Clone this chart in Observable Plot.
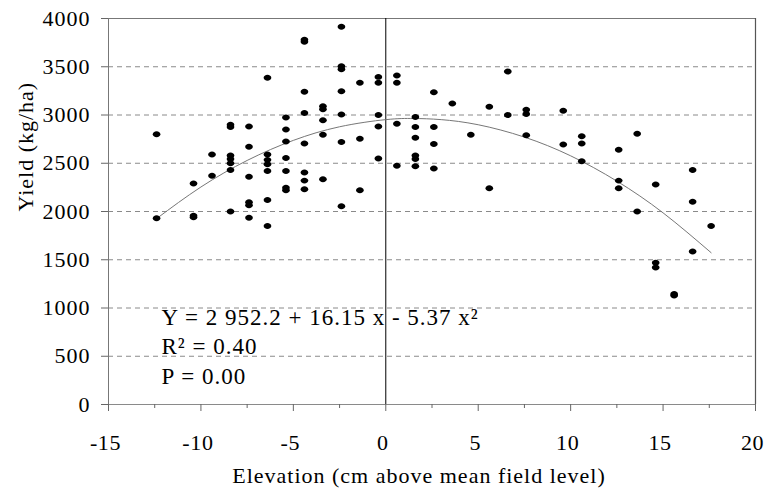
<!DOCTYPE html>
<html>
<head>
<meta charset="utf-8">
<script src="https://cdn.jsdelivr.net/npm/d3@7"></script>
<script src="https://cdn.jsdelivr.net/npm/@observablehq/plot@0.6"></script>
<style>
  html, body { margin: 0; padding: 0; background: #fff; }
  #chart svg text { letter-spacing: 1px; }
  #chart svg g[aria-label="x-axis tick label"] text { letter-spacing: 0.6px; }
</style>
</head>
<body>
<div id="chart"></div>
<script>
// Scatter data: elevation (cm above mean field level) and yield (kg/ha)
const elevation = [
  -12.4, -12.4,
  -10.4, -10.4, -10.4,
  -9.4, -9.4,
  -8.4, -8.4, -8.4, -8.4, -8.4, -8.4, -8.4,
  -7.4, -7.4, -7.4, -7.4, -7.4, -7.4,
  -6.4, -6.4, -6.4, -6.4, -6.4, -6.4, -6.4,
  -5.4, -5.4, -5.4, -5.4, -5.4, -5.4, -5.4,
  -4.4, -4.4, -4.4, -4.4, -4.4, -4.4, -4.4, -4.4,
  -3.4, -3.4, -3.4, -3.4, -3.4,
  -2.4, -2.4, -2.4, -2.4, -2.4, -2.4, -2.4,
  -1.4, -1.4, -1.4,
  -0.4, -0.4, -0.4, -0.4, -0.4,
  0.6, 0.6, 0.6, 0.6,
  1.6, 1.6, 1.6, 1.6, 1.6, 1.6,
  2.6, 2.6, 2.6, 2.6,
  3.6,
  4.6,
  5.6, 5.6,
  6.6, 6.6,
  7.6, 7.6, 7.6,
  9.6, 9.6,
  10.6, 10.6, 10.6,
  12.6, 12.6, 12.6,
  13.6, 13.6,
  14.6, 14.6, 14.6,
  15.6, 15.6,
  16.6, 16.6, 16.6,
  17.6
];
const yieldKgHa = [
  2800, 1930,
  2290, 1955, 1940,
  2590, 2370,
  2900, 2875, 2580, 2545, 2500, 2430, 2000,
  2880, 2670, 2360, 2095, 2065, 1935,
  3385, 2590, 2535, 2490, 2420, 2120, 1850,
  2975, 2850, 2725, 2555, 2420, 2245, 2220,
  3780, 3760, 3240, 3020, 2705, 2405, 2320, 2230,
  3090, 3060, 2945, 2795, 2335,
  3915, 3505, 3475, 3245, 3005, 2720, 2055,
  3335, 2755, 2220,
  3395, 3335, 3000, 2880, 2550,
  3410, 3335, 2910, 2475,
  2980, 2875, 2765, 2580, 2545, 2470,
  3235, 2875, 2700, 2445,
  3120,
  2795,
  3085, 2240,
  3450, 3000,
  3055, 3010, 2790,
  3045, 2695,
  2780, 2705, 2520,
  2640, 2320, 2240,
  2805, 2000,
  2280, 1470, 1420,
  1145, 1130,
  2430, 2100, 1585,
  1850
];

// Fitted quadratic curve
const curveX = [-12.4, -10, -7.5, -5, -2.5, 0, 1.5, 3, 5, 7.5, 10, 12.5, 15, 17.6];
const curveY = [1926, 2254, 2529, 2737, 2878, 2952, 2964, 2952, 2899, 2771, 2577, 2315, 1986, 1573];

// Axis ticks and texts
const xTicks = [-15, -10, -5, 0, 5, 10, 15, 20];
const xMinorTicks = [-12.5, -7.5, -2.5, 2.5, 7.5, 12.5, 17.5];
const yTicks = [0, 500, 1000, 1500, 2000, 2500, 3000, 3500, 4000];
const gridValues = [500, 1000, 1500, 2000, 2500, 3000, 3500];
const equationLines = ["Y = 2 952.2 + 16.15 x - 5.37 x²", "R² = 0.40", "P = 0.00"];
const xLabel = "Elevation (cm above mean field level)";
const yLabel = "Yield (kg/ha)";

const points = elevation.map((e, i) => ({elevation: e, yield: yieldKgHa[i]}));
const curve = curveX.map((x, i) => ({x, y: curveY[i]}));

const ellipse = {
  draw(context, size) {
    const r = Math.sqrt(size / Math.PI);
    const rx = r * 1.12, ry = r * 0.88, k = 0.5523;
    context.moveTo(rx, 0);
    context.bezierCurveTo(rx, ry * k, rx * k, ry, 0, ry);
    context.bezierCurveTo(-rx * k, ry, -rx, ry * k, -rx, 0);
    context.bezierCurveTo(-rx, -ry * k, -rx * k, -ry, 0, -ry);
    context.bezierCurveTo(rx * k, -ry, rx, -ry * k, rx, 0);
    context.closePath();
  }
};

const fmt = d => String(d);

const chart = Plot.plot({
  width: 764,
  height: 488,
  marginLeft: 108,
  marginRight: 9,
  marginTop: 18,
  marginBottom: 84,
  x: {domain: [-15, 20]},
  y: {domain: [0, 4000]},
  style: {
    fontFamily: "'Liberation Serif', 'Times New Roman', serif",
    fontSize: "22px",
    background: "#fff",
    color: "#000"
  },
  marks: [
    Plot.ruleY(gridValues, {stroke: "#8a8a8a", strokeDasharray: "5,4", strokeWidth: 1}),
    Plot.ruleY([4000], {stroke: "#777", strokeWidth: 1}),
    Plot.ruleY([0], {stroke: "#8a8a8a", strokeWidth: 1}),
    Plot.ruleX([20], {stroke: "#555", strokeWidth: 1.2}),
    Plot.ruleX([-15], {stroke: "#777", strokeWidth: 1}),
    Plot.ruleX([0], {stroke: "#000", strokeWidth: 1}),
    Plot.axisY({ticks: yTicks, tickFormat: fmt, tickSize: 7, tickPadding: 11, label: null, stroke: "#666", fill: "#000"}),
    Plot.axisX({ticks: xTicks, tickFormat: () => "", tickSize: 7, label: null, stroke: "#666"}),
    Plot.axisX({ticks: xTicks, tickFormat: fmt, tickSize: 0, tickPadding: 30, label: null, fill: "#000", dx: -3}),
    Plot.axisX({ticks: xMinorTicks, tickFormat: () => "", tickSize: 4, label: null, stroke: "#666"}),
    Plot.line(curve, {x: "x", y: "y", curve: "natural", stroke: "#777", strokeWidth: 1}),
    Plot.dot(points, {x: "elevation", y: "yield", r: 3.4, symbol: ellipse, fill: "#000", stroke: "none"}),
    Plot.text([equationLines.join("\n")], {
      text: d => d, frameAnchor: "bottom-left", textAnchor: "start", lineAnchor: "bottom",
      lineHeight: 1.27, dx: 53, dy: -21, fontSize: 23, fill: "#000"
    }),
    Plot.text([xLabel], {
      text: d => d, frameAnchor: "bottom", lineAnchor: "bottom", dx: -13, dy: 78, fontSize: 22, fill: "#000"
    }),
    Plot.text([yLabel], {
      text: d => d, frameAnchor: "left", lineAnchor: "bottom", rotate: -90, dx: -76, fontSize: 22, fill: "#000"
    })
  ]
});

document.getElementById("chart").appendChild(chart);
</script>
</body>
</html>
